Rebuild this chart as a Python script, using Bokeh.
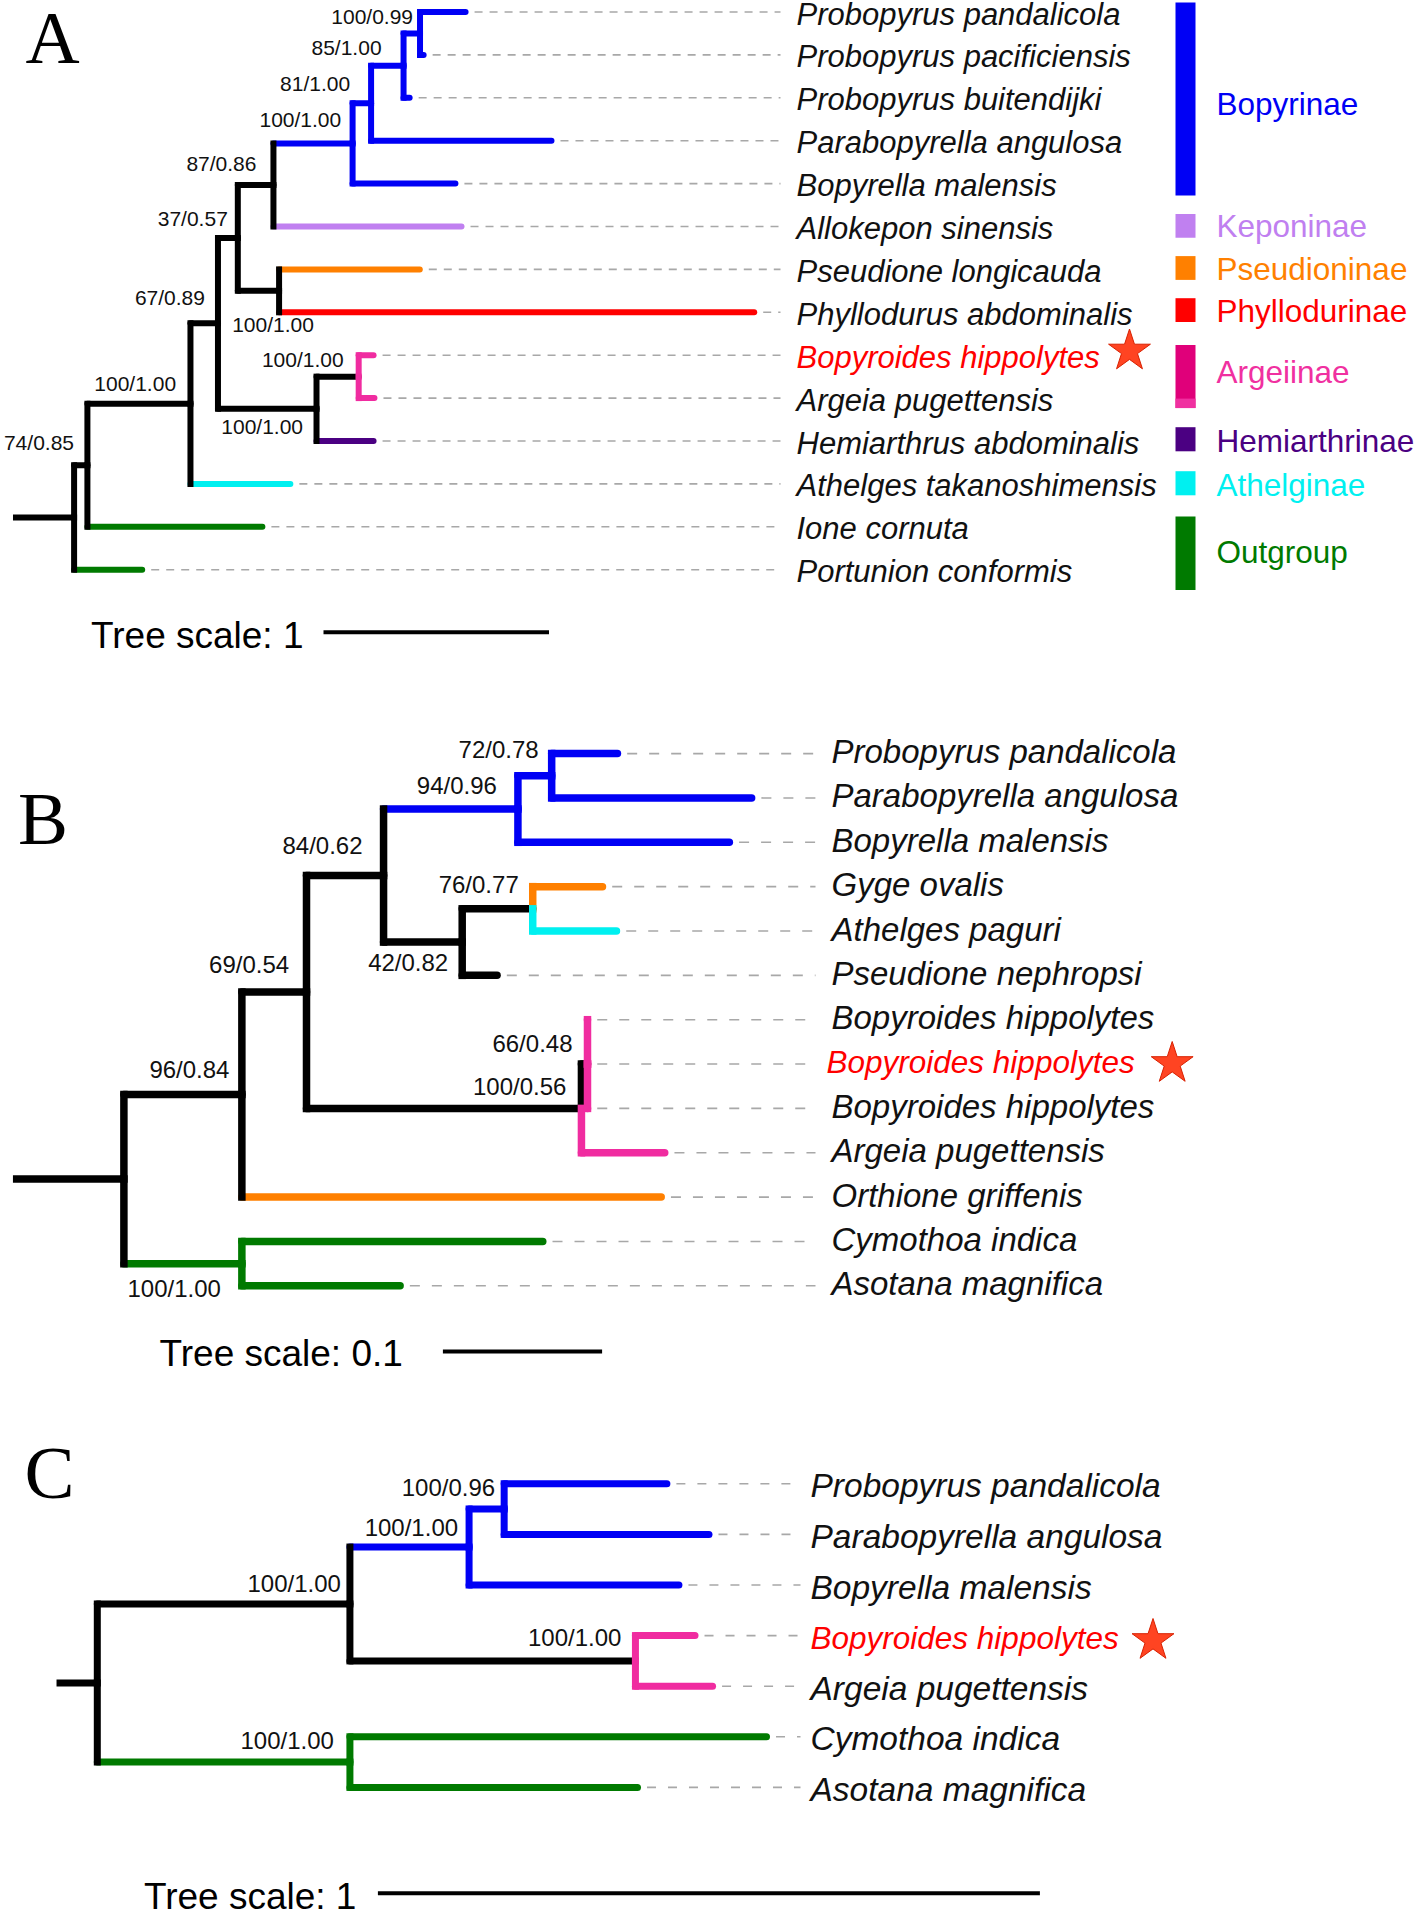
from bokeh.plotting import figure
from bokeh.models import Range1d, ColumnDataSource
from bokeh.layouts import column
from bokeh.embed import file_html
from bokeh.resources import INLINE
from bokeh.core.properties import value

# ---------------- colours ----------------
BLACK = "#000000"
BLUE = "#0000f5"
LAV = "#c080f0"
ORANGE = "#ff8000"
RED = "#ff0000"
PINK = "#f02ca0"
INDIGO = "#4b0082"
CYAN = "#00f0f0"
GREEN = "#007a00"

# ================= DATA =================
# ---- Panel A ----
A_leaf_ids = ["Ppan", "Ppac", "Pbui", "Pang", "Bmal", "Asin", "Plon", "Pabd",
              "Bhip", "Apug", "Habd", "Atak", "Icor", "Pcon"]
A_leaf_names = ["Probopyrus pandalicola", "Probopyrus pacificiensis", "Probopyrus buitendijki",
                "Parabopyrella angulosa", "Bopyrella malensis", "Allokepon sinensis",
                "Pseudione longicauda", "Phyllodurus abdominalis", "Bopyroides hippolytes",
                "Argeia pugettensis", "Hemiarthrus abdominalis", "Athelges takanoshimensis",
                "Ione cornuta", "Portunion conformis"]
A_starred = 8
A_node_ids = ["N1", "Pcon", "N2", "Icor", "N3", "Atak", "N4", "N5", "N9", "N6", "N8", "N7",
              "Asin", "N7a", "Bmal", "N7b", "Pang", "N7c", "Pbui", "Ppan", "Ppac", "Plon",
              "Pabd", "N10", "Habd", "Bhip", "Apug"]
A_parents = [None, "N1", "N1", "N2", "N2", "N3", "N3", "N4", "N4", "N5", "N5", "N6", "N6",
             "N7", "N7", "N7a", "N7a", "N7b", "N7b", "N7c", "N7c", "N8", "N8", "N9", "N9",
             "N10", "N10"]
A_lengths = [0.0, 0.302, 0.059, 0.776, 0.457, 0.443, 0.122, 0.088, 0.437, 0.158, 0.183, 0.351,
             0.834, 0.082, 0.456, 0.144, 0.800, 0.073, 0.027, 0.202, 0.016, 0.624, 2.107,
             0.187, 0.253, 0.066, 0.070]
A_root_stem = 0.271
A_hcolors = [BLACK, GREEN, BLACK, GREEN, BLACK, CYAN, BLACK, BLACK, BLACK, BLACK, BLACK, BLUE,
             LAV, BLUE, BLUE, BLUE, BLUE, BLUE, BLUE, BLUE, BLUE, ORANGE, RED, BLACK, INDIGO,
             PINK, PINK]
A_vcolors = [BLACK, BLACK, BLACK, BLACK, BLACK, BLACK, BLACK, BLACK, BLACK, BLACK, BLACK, BLACK,
             BLACK, BLUE, BLUE, BLUE, BLUE, BLUE, BLUE, BLUE, BLUE, BLACK, BLACK, BLACK, BLACK,
             PINK, PINK]
A_support_nodes = ["N7c", "N7b", "N7a", "N7", "N6", "N5", "N4", "N8", "N10", "N9", "N3", "N2"]
A_support_text = ["100/0.99", "85/1.00", "81/1.00", "100/1.00", "87/0.86", "37/0.57",
                  "67/0.89", "100/1.00", "100/1.00", "100/1.00", "100/1.00", "74/0.85"]
A_scale_value = 1.0
A_scale_text = "Tree scale: 1"

# legend of panel A
LEG_names = ["Bopyrinae", "Keponinae", "Pseudioninae", "Phyllodurinae", "Argeiinae",
             "Hemiarthrinae", "Athelginae", "Outgroup"]
LEG_colors = [BLUE, LAV, ORANGE, RED, "#e0007a", INDIGO, CYAN, GREEN]
LEG_text_colors = [BLUE, "#c07ff0", ORANGE, RED, "#f030a0", INDIGO, CYAN, GREEN]

# ---- Panel B ----
B_leaf_ids = ["Ppan", "Pang", "Bmal", "Gova", "Apag", "Pnep", "Bh1", "Bh2", "Bh3", "Apug",
              "Ogri", "Cind", "Amag"]
B_leaf_names = ["Probopyrus pandalicola", "Parabopyrella angulosa", "Bopyrella malensis",
                "Gyge ovalis", "Athelges paguri", "Pseudione nephropsi", "Bopyroides hippolytes",
                "Bopyroides hippolytes", "Bopyroides hippolytes", "Argeia pugettensis",
                "Orthione griffenis", "Cymothoa indica", "Asotana magnifica"]
B_starred = 7
B_node_ids = ["N1", "N2", "OG", "N3", "Ogri", "N4", "N7", "N5", "N6", "N5a", "Bmal", "Ppan",
              "Pang", "N6a", "Pnep", "Gova", "Apag", "N8", "Apug", "Bh1", "Bh2", "Bh3",
              "Cind", "Amag"]
B_parents = [None, "N1", "N1", "N2", "N2", "N3", "N3", "N4", "N4", "N5", "N5", "N5a", "N5a",
             "N6", "N6", "N6a", "N6a", "N7", "N7", "N8", "N8", "N8", "OG", "OG"]
B_lengths = [0.0, 0.0741, 0.0741, 0.0406, 0.2634, 0.0484, 0.1727, 0.0844, 0.0494, 0.0212,
             0.1328, 0.0413, 0.1256, 0.0443, 0.0219, 0.0438, 0.0526, 0.0038, 0.0523, 0.0,
             0.0, 0.0, 0.189, 0.0994]
B_root_stem = 0.0697
B_hcolors = [BLACK, BLACK, GREEN, BLACK, ORANGE, BLACK, BLACK, BLUE, BLACK, BLUE, BLUE, BLUE,
             BLUE, BLACK, BLACK, ORANGE, CYAN, BLACK, PINK, PINK, PINK, PINK, GREEN, GREEN]
B_vcolors = [BLACK, BLACK, BLACK, BLACK, BLACK, BLACK, BLACK, BLACK, BLACK, BLUE, BLUE, BLUE,
             BLUE, BLACK, BLACK, ORANGE, CYAN, BLACK, PINK, PINK, PINK, PINK, GREEN, GREEN]
B_support_nodes = ["N5a", "N5", "N4", "N6a", "N6", "N3", "N8", "N7", "N2", "OG"]
B_support_text = ["72/0.78", "94/0.96", "84/0.62", "76/0.77", "42/0.82", "69/0.54",
                  "66/0.48", "100/0.56", "96/0.84", "100/1.00"]
B_scale_value = 0.1
B_scale_text = "Tree scale: 0.1"

# ---- Panel C ----
C_leaf_ids = ["Ppan", "Pang", "Bmal", "Bhip", "Apug", "Cind", "Amag"]
C_leaf_names = ["Probopyrus pandalicola", "Parabopyrella angulosa", "Bopyrella malensis",
                "Bopyroides hippolytes", "Argeia pugettensis", "Cymothoa indica",
                "Asotana magnifica"]
C_starred = 3
C_node_ids = ["N1", "N2", "OG", "N3", "Arg", "N3a", "Bmal", "Ppan", "Pang", "Bhip", "Apug",
              "Cind", "Amag"]
C_parents = [None, "N1", "N1", "N2", "N2", "N3", "N3", "N3a", "N3a", "Arg", "Arg", "OG", "OG"]
C_lengths = [0.0, 0.3816, 0.3816, 0.180, 0.4313, 0.053, 0.317, 0.2458, 0.3094, 0.090, 0.1165,
             0.6293, 0.4344]
C_root_stem = 0.0616
C_hcolors = [BLACK, BLACK, GREEN, BLUE, BLACK, BLUE, BLUE, BLUE, BLUE, PINK, PINK, GREEN, GREEN]
C_vcolors = [BLACK, BLACK, BLACK, BLACK, BLACK, BLUE, BLUE, BLUE, BLUE, PINK, PINK, GREEN, GREEN]
C_support_nodes = ["N3a", "N3", "N2", "Arg", "OG"]
C_support_text = ["100/0.96", "100/1.00", "100/1.00", "100/1.00", "100/1.00"]
C_scale_value = 1.0
C_scale_text = "Tree scale: 1"

# ================= LAYOUT (page pixels) =================
PAGE_LEFT = 0
WIDTH = 1416

LAYOUT = {
    "A": dict(fig_top=0, height=688, root_px=73.6, unit=225.5, row0=11.5, gap=42.9,
              label_x=796, red_dx=0, label_dy=2, dash_end=780, font="31px", red_font="31px",
              support_font="21px", lw=6, dash="8 7",
              letter=(25, 36.5), star=(1129, 350.5), bar=(323, 631.7), bar_text=(90.5, 634.5),
              offsets=[(-7, -17), (-22, -18.4), (-21, -19.3), (-11.4, -24.3), (-17, -21.8),
                       (-10, -19.4), (-13, -26.3), (34.8, 34), (-15, -17), (-13.5, 17.7),
                       (-14.4, -20.4), (-13.4, -22.6)]),
    "B": dict(fig_top=688, height=730, root_px=123.4, unit=1592, row0=753.1, gap=44.35,
              label_x=831, red_dx=-5, label_dy=-2, dash_end=815, font="33px", red_font="31.5px",
              support_font="24px", lw=7.5, dash="10 12",
              letter=(17.4, 818), star=(1171.7, 1063), bar=(442.4, 1351), bar_text=(159, 1353),
              offsets=[(-13, -26.3), (-21, -23.5), (-21, -30), (-14, -24.6), (-14, 20.8),
                       (-17.4, -27), (-15, -20.3), (-15, -22.3), (-12.4, -25), (-21, 24.8)]),
    "C": dict(fig_top=1418, height=492, root_px=96.8, unit=662, row0=1483.3, gap=50.6,
              label_x=810, red_dx=0, label_dy=2, dash_end=800, font="33.5px", red_font="31.5px",
              support_font="24px", lw=7, dash="9 12",
              letter=(24, 1472), star=(1152.5, 1640), bar=(377.4, 1892.7),
              bar_text=(143.4, 1896),
              offsets=[(-9, -22), (-11, -19.3), (-9, -20.6), (-14, -23), (-16, -22)]),
}

LEG_LAYOUT = dict(x0=1175, x1=1195, text_x=1216,
                  spans=[(1.9, 195), (213.5, 237.3), (255.6, 279.4), (297.7, 321.5),
                         (344.4, 407.6), (426.7, 450.8), (470.7, 494.8), (515.9, 589.4)],
                  text_y=[103.3, 225, 268, 310, 371, 440, 484, 551])

SANS = value("Liberation Sans")
SERIF = value("Liberation Serif")


def tree_positions(ids, parents, lengths, leaf_ids):
    children = {i: [] for i in ids}
    for i, par in zip(ids, parents):
        if par is not None:
            children[par].append(i)
    x = {}
    for i, par, L in zip(ids, parents, lengths):
        x[i] = 0.0 if par is None else x[par] + L
    y = {}

    def gety(n):
        if n not in y:
            if not children[n]:
                y[n] = float(leaf_ids.index(n))
            else:
                ys = [gety(c) for c in children[n]]
                y[n] = (min(ys) + max(ys)) / 2.0
        return y[n]

    for i in ids:
        gety(i)
    return x, y


def build_panel(key, leaf_ids, leaf_names, starred, ids, parents, lengths, stem,
                hcol, vcol, sup_nodes, sup_text, scale_value, scale_text, legend=False):
    L = LAYOUT[key]
    unit, root_px, row0, gap = L["unit"], L["root_px"], L["row0"], L["gap"]

    def px2x(px):
        return (px - root_px) / unit

    def py2y(py):
        return (py - row0) / gap

    top, h = L["fig_top"], L["height"]
    p = figure(width=WIDTH, height=h,
               x_range=Range1d(px2x(PAGE_LEFT), px2x(PAGE_LEFT + WIDTH)),
               y_range=Range1d(py2y(top + h), py2y(top)),
               output_backend="svg", toolbar_location=None, min_border=0,
               x_axis_location=None, y_axis_location=None)
    p.outline_line_color = None
    p.grid.visible = False
    p.background_fill_color = "white"
    p.border_fill_color = "white"

    x, y = tree_positions(ids, parents, lengths, leaf_ids)
    lw = L["lw"]
    root = ids[0]

    # dashed leader lines
    rows = list(range(len(leaf_ids)))
    tips = [x[l] + (lw / 2 + 6) / unit for l in leaf_ids]
    p.segment(x0=tips, y0=rows, x1=[px2x(L["dash_end"])] * len(leaf_ids), y1=rows,
              line_color="#a8a8a8", line_width=1.6, line_dash=L["dash"])

    # branches
    hs = dict(x0=[], y0=[], x1=[], y1=[], c=[])
    vs = dict(x0=[], y0=[], x1=[], y1=[], c=[])
    for n, par, hc, vc in zip(ids, parents, hcol, vcol):
        if par is None:
            continue
        hs["x0"].append(x[par]); hs["y0"].append(y[n]); hs["x1"].append(x[n]); hs["y1"].append(y[n]); hs["c"].append(hc)
        vs["x0"].append(x[par]); vs["y0"].append(y[par]); vs["x1"].append(x[par]); vs["y1"].append(y[n]); vs["c"].append(vc)
    p.segment(x0="x0", y0="y0", x1="x1", y1="y1", line_color="c", line_width=lw,
              line_cap="round", source=ColumnDataSource(hs))
    p.segment(x0="x0", y0="y0", x1="x1", y1="y1", line_color="c", line_width=lw,
              line_cap="square", source=ColumnDataSource(vs))
    # root stem
    p.segment(x0=[-stem], y0=[y[root]], x1=[0.0], y1=[y[root]], line_color=BLACK,
              line_width=lw, line_cap="butt")

    # support values
    offs = L["offsets"]
    p.text(x=[x[n] for n in sup_nodes], y=[y[n] for n in sup_nodes], text=sup_text,
           x_offset=[o[0] for o in offs], y_offset=[o[1] for o in offs],
           text_align="right", text_baseline="middle", text_font=SANS,
           text_font_size=L["support_font"], text_color="#111111")

    # leaf labels
    plain = [i for i in rows if i != starred]
    p.text(x=[px2x(L["label_x"])] * len(plain), y=plain,
           text=[leaf_names[i] for i in plain], text_color="#111111", y_offset=L["label_dy"],
           text_align="left", text_baseline="middle", text_font=SANS,
           text_font_style="italic", text_font_size=L["font"])
    p.text(x=[px2x(L["label_x"] + L["red_dx"])], y=[starred], text=[leaf_names[starred]],
           text_color=RED, y_offset=L["label_dy"], text_align="left", text_baseline="middle",
           text_font=SANS, text_font_style="italic", text_font_size=L["red_font"])

    # star
    sx, sy = L["star"]
    p.scatter(x=[px2x(sx)], y=[py2y(sy)], marker="star", size=44,
              fill_color="#ff4422", line_color="#d82000", line_width=1)

    # panel letter
    lx, ly = L["letter"]
    p.text(x=[px2x(lx)], y=[py2y(ly)], text=[key], text_font=SERIF,
           text_font_size="75px", text_baseline="middle", text_align="left",
           text_color=BLACK)

    # scale bar
    bx, by = L["bar"]
    p.segment(x0=[px2x(bx)], y0=[py2y(by)], x1=[px2x(bx) + scale_value], y1=[py2y(by)],
              line_color=BLACK, line_width=4, line_cap="butt")
    tx, ty = L["bar_text"]
    p.text(x=[px2x(tx)], y=[py2y(ty)], text=[scale_text], text_font=SANS,
           text_font_size="37px", text_baseline="middle", text_align="left",
           text_color=BLACK)

    if legend:
        G = LEG_LAYOUT
        tops = [py2y(s[0]) for s in G["spans"]]
        bots = [py2y(s[1]) for s in G["spans"]]
        p.quad(left=[px2x(G["x0"])] * len(tops), right=[px2x(G["x1"])] * len(tops),
               top=tops, bottom=bots, fill_color=LEG_colors, line_color=None)
        # lighter lower band of the Argeiinae swatch
        ai = LEG_names.index("Argeiinae")
        s0, s1 = G["spans"][ai]
        p.quad(left=[px2x(G["x0"])], right=[px2x(G["x1"])], top=[py2y(s1 - 9.5)],
               bottom=[py2y(s1)], fill_color="#f030a0", line_color=None)
        p.text(x=[px2x(G["text_x"])] * len(LEG_names), y=[py2y(t) for t in G["text_y"]],
               text=LEG_names, text_color=LEG_text_colors, text_font=SANS,
               text_font_size="31.5px", text_baseline="middle", text_align="left")
    return p


pA = build_panel("A", A_leaf_ids, A_leaf_names, A_starred, A_node_ids, A_parents, A_lengths,
                 A_root_stem, A_hcolors, A_vcolors, A_support_nodes, A_support_text,
                 A_scale_value, A_scale_text, legend=True)
pB = build_panel("B", B_leaf_ids, B_leaf_names, B_starred, B_node_ids, B_parents, B_lengths,
                 B_root_stem, B_hcolors, B_vcolors, B_support_nodes, B_support_text,
                 B_scale_value, B_scale_text)
pC = build_panel("C", C_leaf_ids, C_leaf_names, C_starred, C_node_ids, C_parents, C_lengths,
                 C_root_stem, C_hcolors, C_vcolors, C_support_nodes, C_support_text,
                 C_scale_value, C_scale_text)

layout = column(pA, pB, pC, spacing=0)
open("out.html", "w").write(file_html(layout, INLINE))
